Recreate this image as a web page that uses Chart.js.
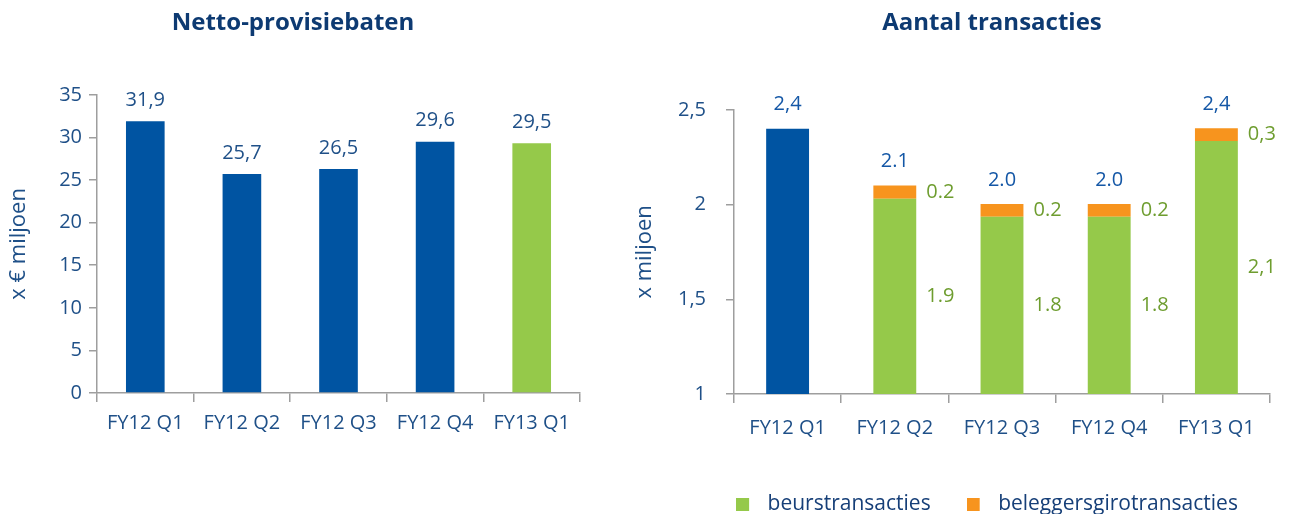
<!DOCTYPE html>
<html><head><meta charset="utf-8">
<script src="https://cdn.jsdelivr.net/npm/chart.js@4.4.1/dist/chart.umd.min.js"></script>
<style>
html,body{margin:0;padding:0;background:#fff;overflow:hidden;width:1290px;height:514px}
#c1{position:absolute;left:0;top:0}
#c2{position:absolute;left:620px;top:0}
</style>
</head><body>
<canvas id="c1" width="620" height="514"></canvas>
<canvas id="c2" width="670" height="514"></canvas>
<script>
// ---------- data ----------
const categories = ['FY12 Q1', 'FY12 Q2', 'FY12 Q3', 'FY12 Q4', 'FY13 Q1'];

const leftTitle = 'Netto-provisiebaten';
const leftAxisTitle = 'x \u20AC miljoen';
const provisieValues = [31.9, 25.7, 26.3, 29.5, 29.3];
const provisieLabels = ['31,9', '25,7', '26,5', '29,6', '29,5'];
const provisieColors = ['#0054a2', '#0054a2', '#0054a2', '#0054a2', '#95c94a'];
const leftTickValues = [0, 5, 10, 15, 20, 25, 30, 35];
const leftTickLabels = ['0', '5', '10', '15', '20', '25', '30', '35'];

const rightTitle = 'Aantal transacties';
const rightAxisTitle = 'x miljoen';
const totaalValues = [2.4, null, null, null, null];
const beursValues = [null, 2.03, 1.935, 1.935, 2.335];
const giroValues = [null, 0.07, 0.068, 0.068, 0.068];
const totaalLabels = ['2,4', '2.1', '2.0', '2.0', '2,4'];
const beursLabels = [null, '1.9', '1.8', '1.8', '2,1'];
const giroLabels = [null, '0.2', '0.2', '0.2', '0,3'];
const seriesNames = ['beurstransacties', 'beleggersgirotransacties'];
const rightTickValues = [1, 1.5, 2, 2.5];
const rightTickLabels = ['1', '1,5', '2', '2,5'];

// ---------- styles ----------
const FONT = "'Open Sans', 'Noto Sans', sans-serif";
const NAVY = '#0d3a72';
const TICK = '#1f5088';
const BLUE = '#0054a2';
const GREEN = '#95c94a';
const ORANGE = '#f7941e';
const TOPLBL = '#1457a6';
const GREENLBL = '#6e9d2f';
const AXIS = '#9e9e9e';

Chart.defaults.font.family = FONT;
Chart.defaults.animation = false;

function tickLabel(values, labels) {
  return function (v) {
    const i = values.findIndex(t => Math.abs(t - v) < 1e-9);
    return i >= 0 ? labels[i] : '';
  };
}

const shiftPlugin = {
  id: 'shift',
  afterLayout(chart, args, o) {
    const apply = (b, s) => {
      if (!b || !s) return;
      b.left += s.dx || 0; b.right += s.dx || 0;
      b.top += s.dy || 0; b.bottom += s.dy || 0;
    };
    apply(chart.titleBlock, o.title);
    apply(chart.legend, o.legend);
  }
};

const leftLabelPlugin = {
  id: 'leftLabels',
  afterDatasetsDraw(chart) {
    const ctx = chart.ctx;
    const meta = chart.getDatasetMeta(0);
    ctx.save();
    ctx.font = '20px ' + FONT;
    ctx.fillStyle = TICK;
    ctx.textAlign = 'center';
    ctx.textBaseline = 'middle';
    meta.data.forEach((bar, i) => {
      ctx.fillText(provisieLabels[i], bar.x, bar.y - 21);
    });
    ctx.restore();
  }
};

const rightLabelPlugin = {
  id: 'rightLabels',
  afterDatasetsDraw(chart) {
    const ctx = chart.ctx;
    const mTot = chart.getDatasetMeta(0);
    const mBeurs = chart.getDatasetMeta(1);
    const mGiro = chart.getDatasetMeta(2);
    const area = chart.chartArea;
    ctx.save();
    ctx.font = '20px ' + FONT;
    ctx.textBaseline = 'middle';
    categories.forEach((c, i) => {
      const topBar = totaalValues[i] != null ? mTot.data[i] : mGiro.data[i];
      ctx.fillStyle = TOPLBL;
      ctx.textAlign = 'center';
      ctx.fillText(totaalLabels[i], topBar.x, topBar.y - 24);
      if (giroLabels[i]) {
        const g = mGiro.data[i];
        ctx.fillStyle = GREENLBL;
        ctx.textAlign = 'left';
        ctx.fillText(giroLabels[i], g.x + g.width / 2 + 10, (g.y + g.base) / 2);
      }
      if (beursLabels[i]) {
        const b = mBeurs.data[i];
        ctx.fillStyle = GREENLBL;
        ctx.textAlign = 'left';
        ctx.fillText(beursLabels[i], b.x + b.width / 2 + 10, (b.y + Math.min(b.base, area.bottom)) / 2);
      }
    });
    ctx.restore();
  }
};

function swatch(color) {
  const c = document.createElement('canvas');
  c.width = 21; c.height = 13;
  const x = c.getContext('2d');
  x.fillStyle = color;
  x.fillRect(0, 0, 13, 13);
  return c;
}
const swatches = [swatch(GREEN), swatch(ORANGE)];

// ---------- left chart ----------
new Chart(document.getElementById('c1'), {
  type: 'bar',
  data: {
    labels: categories,
    datasets: [{
      label: leftTitle,
      data: provisieValues,
      backgroundColor: provisieColors,
      borderWidth: 0,
      barPercentage: 0.4,
      categoryPercentage: 1.0
    }]
  },
  options: {
    responsive: false,
    layout: { padding: { left: 6, right: 40, top: 0, bottom: 0 } },
    plugins: {
      legend: { display: false },
      tooltip: { enabled: false },
      title: {
        display: true, text: leftTitle, color: NAVY,
        font: { size: 24, weight: 'bold', family: FONT },
        padding: { top: 9, bottom: 57 }
      }
    },
    scales: {
      x: {
        grid: { display: true, drawOnChartArea: false, drawTicks: true, tickLength: 9, color: AXIS, lineWidth: 1.5 },
        border: { display: true, color: AXIS, width: 1.5 },
        ticks: { color: TICK, font: { size: 20 }, padding: 9, maxRotation: 0 },
        afterFit: s => { s.height = 121; }
      },
      y: {
        min: 0, max: 35,
        afterBuildTicks: s => { s.ticks = leftTickValues.map(v => ({ value: v })); },
        grid: { display: true, drawOnChartArea: false, drawTicks: true, tickLength: 8, color: AXIS, lineWidth: 1.5 },
        border: { display: true, color: AXIS, width: 1.5 },
        ticks: { color: TICK, font: { size: 20 }, padding: 7, callback: tickLabel(leftTickValues, leftTickLabels) },
        title: { display: true, text: leftAxisTitle, color: TICK, font: { size: 22 }, padding: { top: 0, bottom: 0 } },
        afterFit: s => { s.width = 91; }
      }
    }
  },
  plugins: [leftLabelPlugin]
});

// ---------- right chart ----------
new Chart(document.getElementById('c2'), {
  type: 'bar',
  data: {
    labels: categories,
    datasets: [
      { label: 'totaal', data: totaalValues, backgroundColor: BLUE, borderWidth: 0, barPercentage: 0.4, categoryPercentage: 1.0, stack: 's' },
      { label: seriesNames[0], data: beursValues, backgroundColor: GREEN, borderWidth: 0, barPercentage: 0.4, categoryPercentage: 1.0, stack: 's' },
      { label: seriesNames[1], data: giroValues, backgroundColor: ORANGE, borderWidth: 0, barPercentage: 0.4, categoryPercentage: 1.0, stack: 's' }
    ]
  },
  options: {
    responsive: false,
    layout: { padding: { left: 12, right: 20, top: 0, bottom: 0 } },
    plugins: {
      tooltip: { enabled: false },
      title: {
        display: true, text: rightTitle, color: NAVY,
        font: { size: 24, weight: 'bold', family: FONT },
        padding: { top: 9, bottom: 72 }
      },
      legend: {
        display: true, position: 'bottom',
        labels: {
          color: '#163f78', font: { size: 21 }, padding: 36,
          usePointStyle: true, pointStyleWidth: 21, boxHeight: 13,
          generateLabels: chart => {
            const items = Chart.defaults.plugins.legend.labels.generateLabels(chart);
            return items.filter(it => it.datasetIndex > 0).map(it => {
              it.pointStyle = swatches[it.datasetIndex - 1];
              return it;
            });
          }
        }
      },
      shift: { title: { dx: 41 }, legend: { dx: 36, dy: 11 } }
    },
    scales: {
      x: {
        stacked: true,
        grid: { display: true, drawOnChartArea: false, drawTicks: true, tickLength: 9, color: AXIS, lineWidth: 1.5 },
        border: { display: true, color: AXIS, width: 1.5 },
        ticks: { color: TICK, font: { size: 20 }, padding: 13, maxRotation: 0 },
        afterFit: s => { s.height = 53; }
      },
      y: {
        stacked: true,
        min: 1, max: 2.5,
        afterBuildTicks: s => { s.ticks = rightTickValues.map(v => ({ value: v })); },
        grid: { display: true, drawOnChartArea: false, drawTicks: true, tickLength: 8, color: AXIS, lineWidth: 1.5 },
        border: { display: true, color: AXIS, width: 1.5 },
        ticks: { color: TICK, font: { size: 20 }, padding: 20, callback: tickLabel(rightTickValues, rightTickLabels) },
        title: { display: true, text: rightAxisTitle, color: TICK, font: { size: 22 }, padding: { top: 0, bottom: 0 } },
        afterFit: s => { s.width = 102; }
      }
    }
  },
  plugins: [shiftPlugin, rightLabelPlugin]
});
</script>
</body></html>
